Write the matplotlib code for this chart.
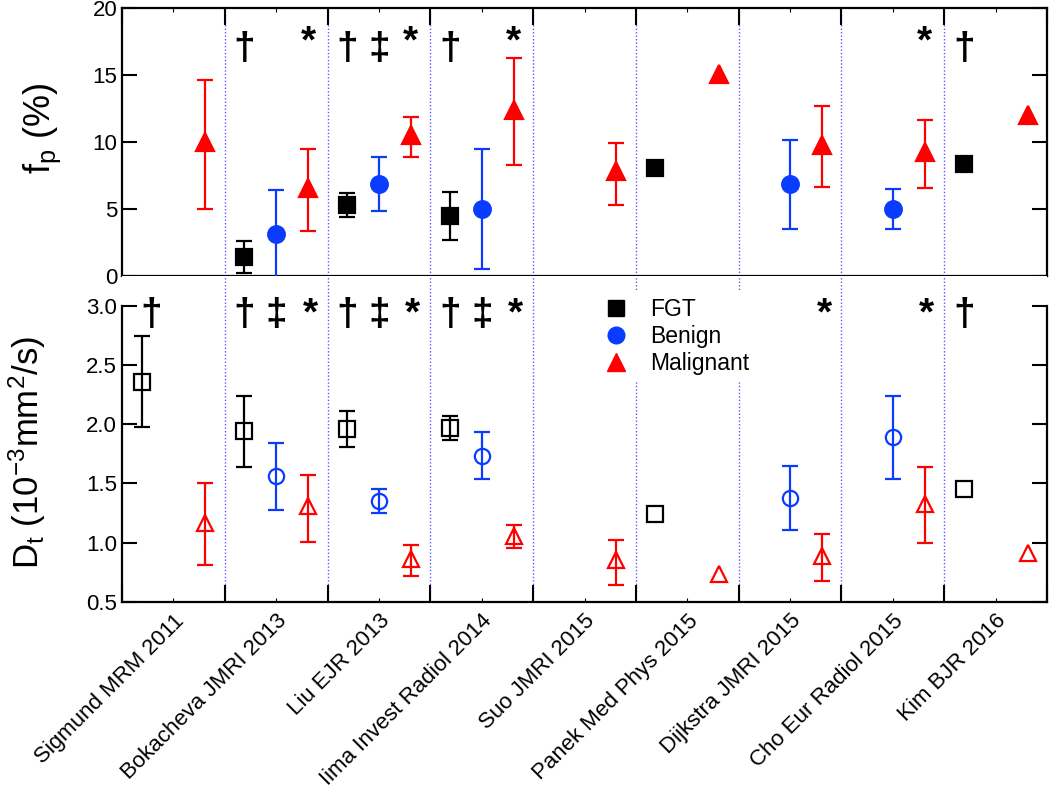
import numpy as np
import matplotlib
matplotlib.use("Agg")
import matplotlib.pyplot as plt
from matplotlib.lines import Line2D

plt.rcParams['font.family'] = ['Liberation Sans', 'DejaVu Sans']
plt.rcParams['mathtext.fontset'] = 'custom'
plt.rcParams['mathtext.rm'] = 'Liberation Sans'
plt.rcParams['mathtext.it'] = 'Liberation Sans:italic'

nan = np.nan
studies = ['Sigmund MRM 2011', 'Bokacheva JMRI 2013', 'Liu EJR 2013',
           'Iima Invest Radiol 2014', 'Suo JMRI 2015', 'Panek Med Phys 2015',
           'Dijkstra JMRI 2015', 'Cho Eur Radiol 2015', 'Kim BJR 2016']

# perfusion fraction fp (%) : value, lower end, upper end of error bar
fp_fgt = [nan, 1.4, 5.3, 4.5, nan, 8.05, nan, nan, 8.35]
fp_fgt_lo = [nan, 0.2, 4.4, 2.7, nan, nan, nan, nan, nan]
fp_fgt_hi = [nan, 2.6, 6.2, 6.25, nan, nan, nan, nan, nan]
fp_ben = [nan, 3.1, 6.85, 5.0, nan, nan, 6.85, 5.0, nan]
fp_ben_lo = [nan, -0.15, 4.85, 0.5, nan, nan, 3.5, 3.5, nan]
fp_ben_hi = [nan, 6.4, 8.85, 9.5, nan, nan, 10.15, 6.5, nan]
fp_mal = [10.0, 6.55, 10.5, 12.4, 7.8, 15.1, 9.8, 9.25, 12.0]
fp_mal_lo = [5.0, 3.35, 8.85, 8.3, 5.3, nan, 6.65, 6.55, nan]
fp_mal_hi = [14.6, 9.5, 11.85, 16.3, 9.95, nan, 12.65, 11.65, nan]

# tissue diffusion Dt (10^-3 mm^2/s)
dt_fgt = [2.355, 1.94, 1.96, 1.97, nan, 1.24, nan, nan, 1.455]
dt_fgt_lo = [1.98, 1.64, 1.81, 1.87, nan, nan, nan, nan, nan]
dt_fgt_hi = [2.74, 2.24, 2.11, 2.07, nan, nan, nan, nan, nan]
dt_ben = [nan, 1.56, 1.355, 1.73, nan, nan, 1.38, 1.89, nan]
dt_ben_lo = [nan, 1.28, 1.25, 1.535, nan, nan, 1.11, 1.54, nan]
dt_ben_hi = [nan, 1.84, 1.45, 1.93, nan, nan, 1.65, 2.24, nan]
dt_mal = [1.17, 1.31, 0.86, 1.06, 0.85, 0.74, 0.885, 1.33, 0.915]
dt_mal_lo = [0.81, 1.01, 0.72, 0.955, 0.645, nan, 0.675, 1.0, nan]
dt_mal_hi = [1.50, 1.57, 0.98, 1.15, 1.025, nan, 1.07, 1.64, nan]

# significance marks: (study index, symbol, horizontal offset in group)
marks_fp = [(1, '†', -0.31), (1, '*', 0.31),
            (2, '†', -0.31), (2, '‡', 0.0), (2, '*', 0.31),
            (3, '†', -0.31), (3, '*', 0.31),
            (7, '*', 0.31), (8, '†', -0.31)]
marks_dt = [(0, '†', -0.22),
            (1, '†', -0.31), (1, '‡', 0.0), (1, '*', 0.33),
            (2, '†', -0.31), (2, '‡', 0.0), (2, '*', 0.33),
            (3, '†', -0.31), (3, '‡', 0.0), (3, '*', 0.33),
            (6, '*', 0.33), (7, '*', 0.33), (8, '†', -0.31)]

BLACK, BLUE, RED = 'black', '#0a3cff', '#ff0000'
centers = np.arange(len(studies)) + 0.5

fig = plt.figure(figsize=(10.5, 7.95), dpi=100)
ax1 = fig.add_axes([0.1162, 0.6528, 0.881, 0.3372])
ax2 = fig.add_axes([0.1162, 0.2428, 0.881, 0.41])


def draw_series(ax, vals, lo, hi, off, color, marker, ms, filled):
    vals, lo, hi = np.array(vals), np.array(lo), np.array(hi)
    x = centers + off
    ok = ~np.isnan(lo)
    ax.errorbar(x[ok], vals[ok], yerr=[vals[ok] - lo[ok], hi[ok] - vals[ok]],
                fmt='none', ecolor=color, elinewidth=1.6, capsize=6,
                capthick=1.6, zorder=3)
    has = ~np.isnan(vals)
    ax.plot(x[has], vals[has], linestyle='none', marker=marker, ms=ms,
            color=color, mfc=color if filled else 'none', mew=1.6, zorder=4)


draw_series(ax1, fp_fgt, fp_fgt_lo, fp_fgt_hi, -0.31, BLACK, 's', 11, True)
draw_series(ax1, fp_ben, fp_ben_lo, fp_ben_hi, 0.0, BLUE, 'o', 12, True)
draw_series(ax1, fp_mal, fp_mal_lo, fp_mal_hi, 0.31, RED, '^', 13, True)

draw_series(ax2, dt_fgt, dt_fgt_lo, dt_fgt_hi, -0.31, BLACK, 's', 11, False)
draw_series(ax2, dt_ben, dt_ben_lo, dt_ben_hi, 0.0, BLUE, 'o', 11, False)
draw_series(ax2, dt_mal, dt_mal_lo, dt_mal_hi, 0.31, RED, '^', 12, False)

for i, s, off in marks_fp:
    y = 16.7 if s == '*' else 16.2
    ax1.text(centers[i] + off, y, s, ha='center', va='baseline',
             fontsize=28, fontweight='bold', zorder=5)
for i, s, off in marks_dt:
    ax2.text(centers[i] + off, 2.84, s, ha='center', va='baseline',
             fontsize=28, fontweight='bold', zorder=5)

for ax in (ax1, ax2):
    ax.set_xlim(0, len(studies))
    for b in range(1, len(studies)):
        ax.axvline(b, color='#5a5aff', linestyle=(0, (1, 1.5)), lw=1, zorder=1)
    ax.set_xticks(np.arange(len(studies) + 1))
    ax.set_xticks(centers, minor=True)
    ax.tick_params(axis='x', which='major', direction='in', length=12, width=1.5)
    ax.tick_params(axis='x', which='minor', direction='in', length=3, width=0.8)
    ax.tick_params(axis='y', which='major', direction='in', length=11, width=1.5,
                   left=True, right=True, labelsize=16)
    for sp in ax.spines.values():
        sp.set_linewidth(1.6)

ax1.set_ylim(0, 20)
ax1.set_yticks([0, 5, 10, 15, 20])
ax1.tick_params(axis='x', which='both', top=True, bottom=False,
                labelbottom=False, labeltop=False)
ax1.set_ylabel('f$_\\mathregular{p}$ (%)', fontsize=26)
ax1.yaxis.set_label_coords(-0.064, 0.55)

ax2.set_ylim(0.5, 3.25)
ax2.set_yticks(np.arange(0.5, 3.01, 0.5))
ax2.set_yticklabels(['%.1f' % v for v in np.arange(0.5, 3.01, 0.5)])
ax2.spines['left'].set_bounds(0.5, 3.0)
ax2.spines['right'].set_bounds(0.5, 3.0)
ax2.spines['top'].set_visible(False)
ax2.tick_params(axis='x', which='both', top=False, bottom=True)
ax2.set_xticklabels([])
ax2.set_xticklabels(studies, minor=True, rotation=45, ha='right', va='top',
                    rotation_mode='anchor', fontsize=16)
ax2.tick_params(axis='x', which='minor', pad=6)
ax2.set_ylabel('D$_\\mathregular{t}$ (10$^\\mathregular{-3}$mm$^\\mathregular{2}$/s)',
               fontsize=25)
ax2.yaxis.set_label_coords(-0.08, 0.46)

handles = [Line2D([], [], ls='none', marker='s', ms=11, color=BLACK),
           Line2D([], [], ls='none', marker='o', ms=12, color=BLUE),
           Line2D([], [], ls='none', marker='^', ms=13, color=RED)]
leg = ax2.legend(handles, ['FGT', 'Benign', 'Malignant'], loc='upper left',
                 bbox_to_anchor=(0.502, 0.99), fontsize=16.5, frameon=True,
                 handletextpad=1.0, labelspacing=0.18, borderpad=0.3,
                 handlelength=1.0, fancybox=False)
leg.get_frame().set_edgecolor('none')
leg.get_frame().set_facecolor('white')
leg.get_frame().set_alpha(1)
leg.set_zorder(6)

fig.savefig('out.png', dpi=100)
